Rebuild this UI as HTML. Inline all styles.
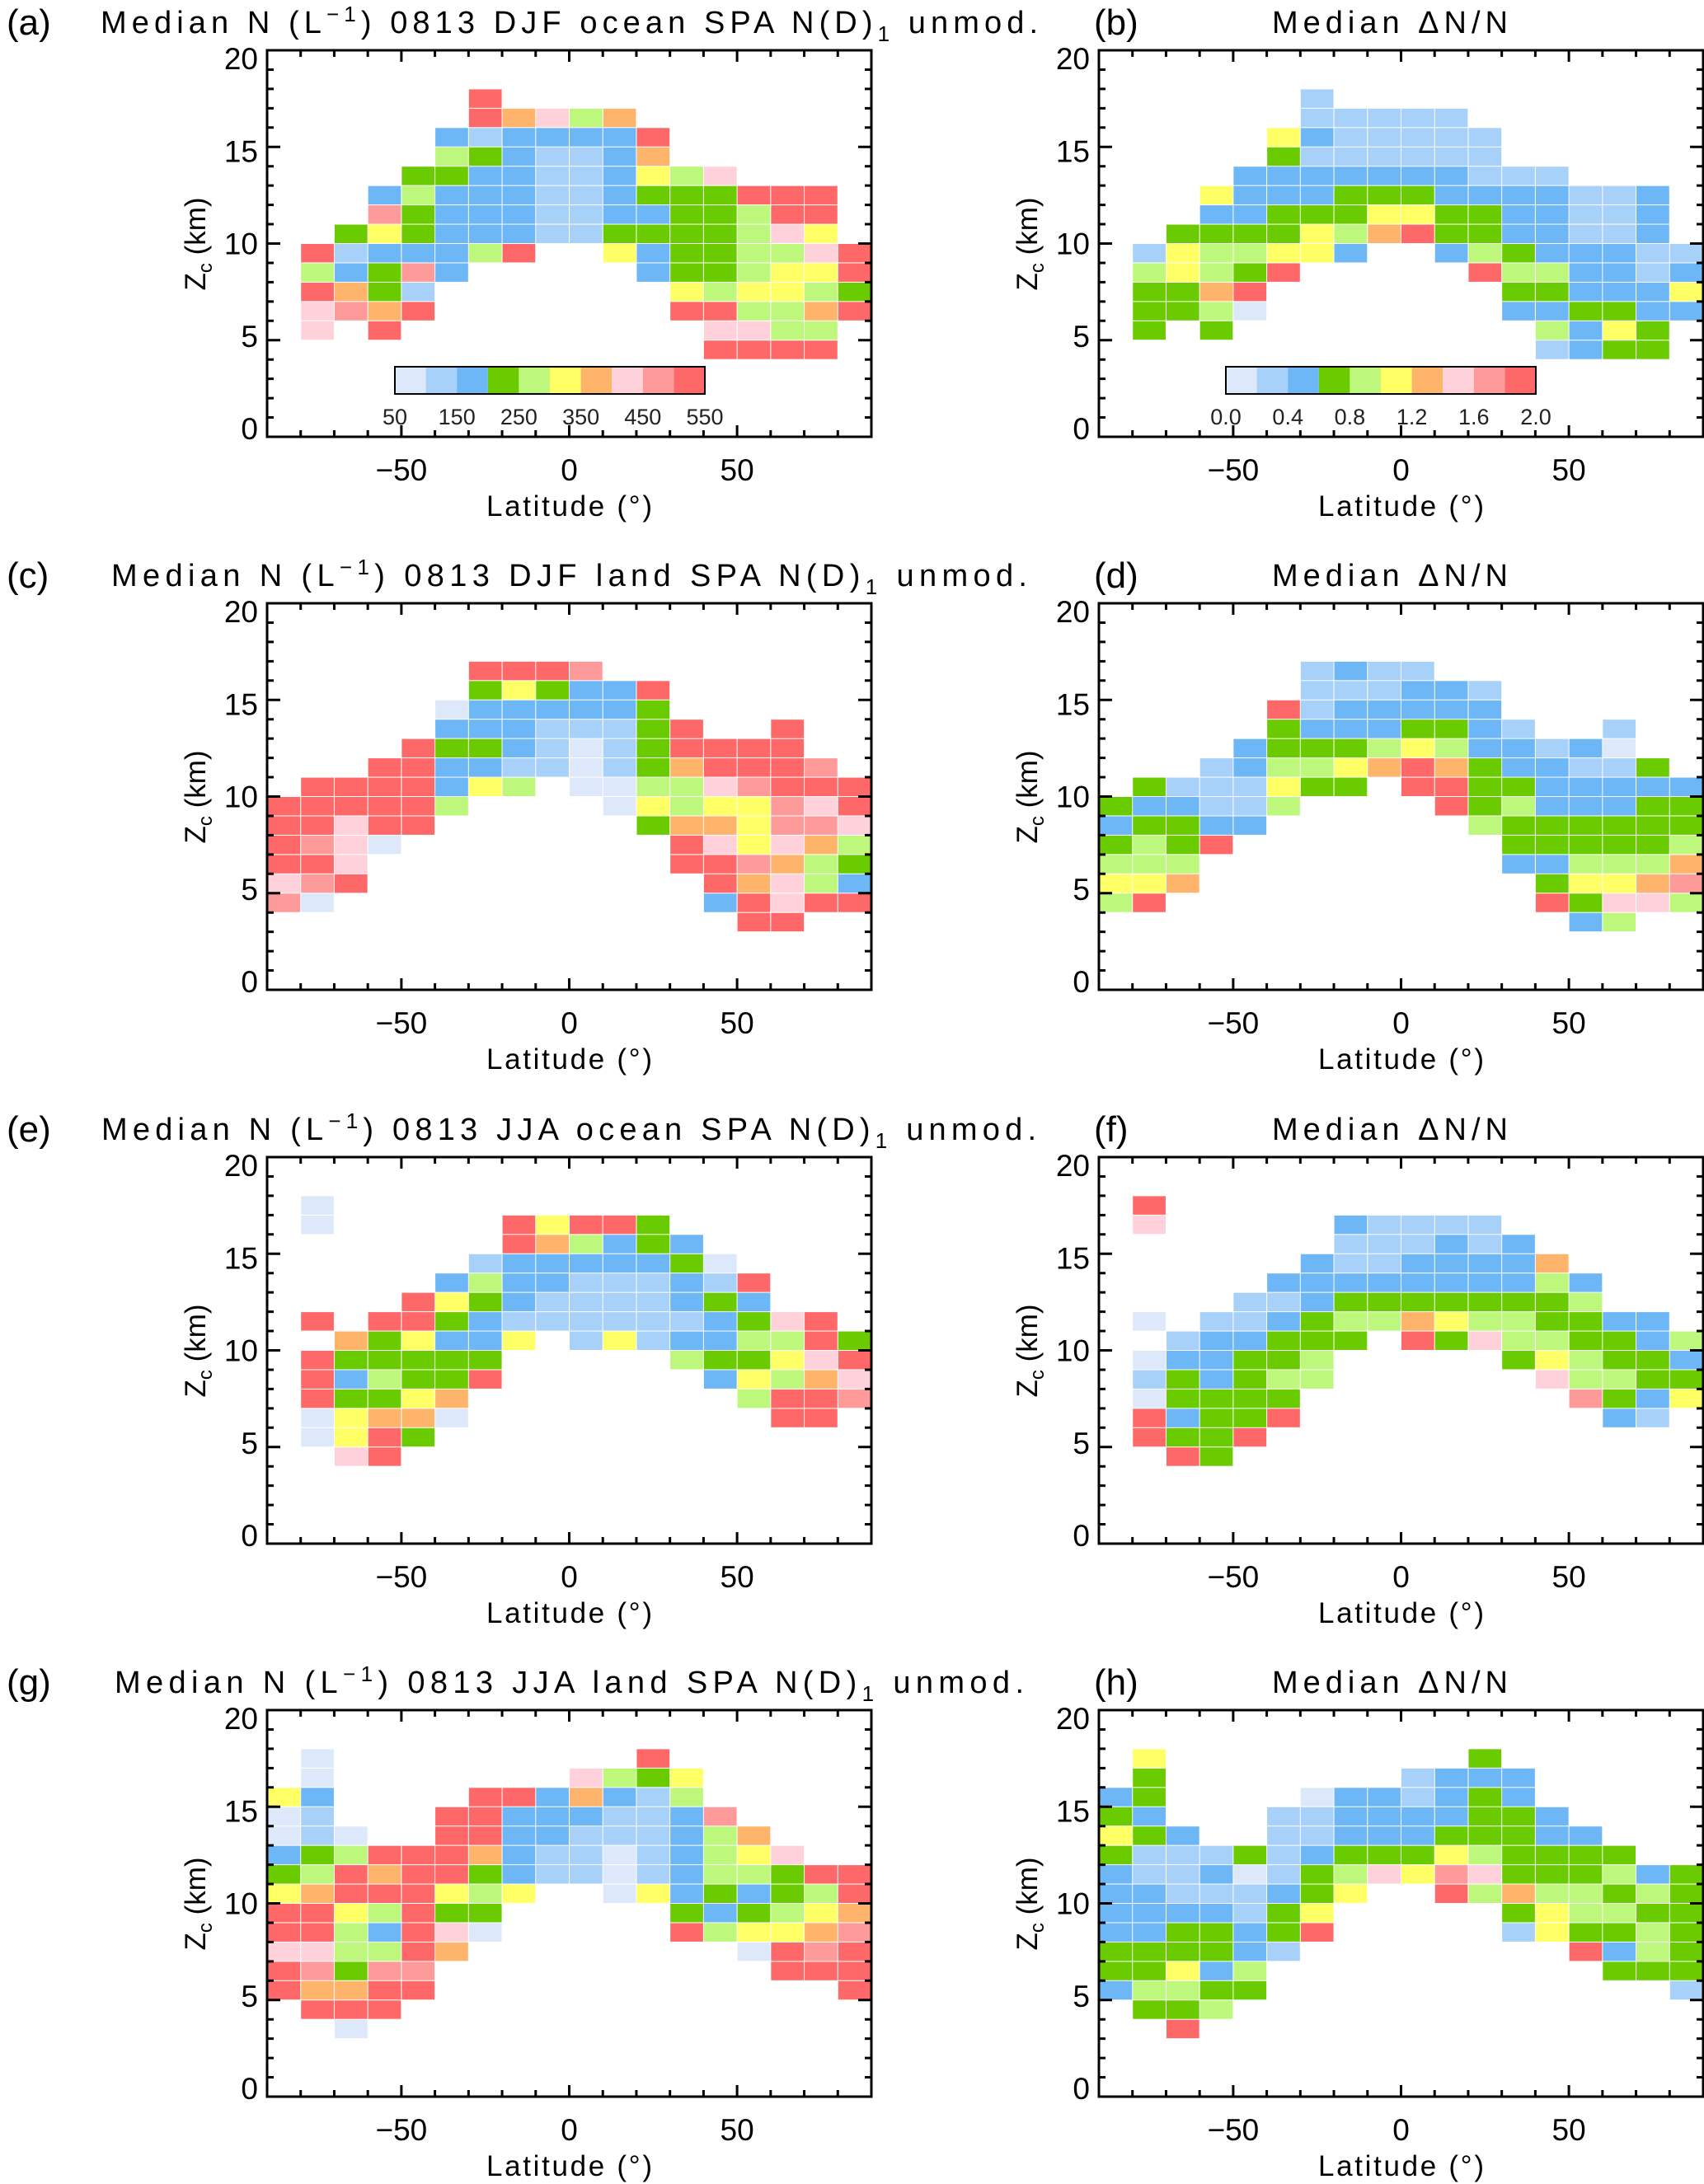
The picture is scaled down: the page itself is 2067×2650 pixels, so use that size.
<!DOCTYPE html>
<html><head><meta charset="utf-8"><title>Median N and ΔN/N panels</title>
<style>
html,body{margin:0;padding:0;background:#fff;}
svg{display:block;font-family:"Liberation Sans",sans-serif;}
</style></head>
<body>
<svg id="fig" width="2067" height="2650" viewBox="0 0 2067 2650" xmlns="http://www.w3.org/2000/svg"></svg>
<script>
// ---- data ----
const latEdges = [-90,-80,-70,-60,-50,-40,-30,-20,-10,0,10,20,30,40,50,60,70,80,90];
const xTickLabels = ["-50","0","50"];
const xTickValues = [-50,0,50];
const yTickValues = [0,5,10,15,20];
const cbLabelsN = ["50","150","250","350","450","550"];
const cbLabelsR = ["0.0","0.4","0.8","1.2","1.6","2.0"];
const palette = ["#dde9fb","#a8d1f9","#6db7f7","#6acc00","#bdf77c","#ffff66","#ffb46b","#ffd1da","#ff9a9a","#ff6868"];
const startAlt = 17; // first row = 17-18 km, going down
const panelA = ["......9...........","......96746.......",".....2122229......",".....4321126......","....3322112547....","...24222112333999.","...83222112233499.","..353222113333475.",".9122249..52334479",".42382.....2334559",".9631.......545543",".7869.......994469",".7.9.........7744.",".............9999."];
const panelB = ["......1...........","......11111.......",".....5211111......",".....3111111......","....2222222111....","...52223332222112.","...22333553322112.","..333354693322112.",".1544552..24322211",".45439.....9442212",".3369.......332225",".3340.......223322",".3.3.........4253.",".............1233."];
const panelC = ["..................","......9998........","......353229......",".....0222223......",".....22211139..9..","....933210139999..","...99221101369998.",".9999254.004478999","999994....05455879","99799......3665887","9870........975764","997.........998643","789..........96742","80...........29799","..............99.."];
const panelD = ["..................","......1211........","......111221......",".....9122222......",".....32223321..1..","....233345422120..","...12445696322113.",".3111533.993322222","322114....93422233","23322......4333333","3439........333334","444.........224446","556..........35568","49...........93774","..............24.."];
const panelE = [".0................",".0.....95993......",".......964232.....","......12222230....",".....2422111219...","....95321111232...",".9.99321111112379.","..635225.151224493",".933333.....433579",".924339......25467",".93356........4998",".05660.........99.",".0593.............","..79.............."];
const panelF = [".9................",".7.....21111......",".......111212.....","......21122226....",".....2222222242...","....11233333334...",".0.11234465443322.","..122333.937443324",".022334.....354332",".132344......74433",".03333........8325",".92339.........21.",".9339.............","..93.............."];
const panelG = [".0.........9......",".0.......7435.....","52....9926214.....","01...992221128....","010..9922111246...","2349996211012457..","349699321101244399","56999545..05232349","9954933.....323456","9942970.....945568","774496........0989","98388..........999","96699............9",".999..............","..0..............."];
const panelH = [".5.........3......",".3.......1222.....","23....0221232.....","32...112222332....","532..1122233322...","3111312333543333..","211201347587333423","22111235..94644343","2222135.....354433","2233239.....153343","333321........9243","33524..........333","24433............1",".334..............","..9..............."];

const NS="http://www.w3.org/2000/svg";
const svg=document.getElementById('fig');
function mk(tag,attrs,parent){const e=document.createElementNS(NS,tag);for(const k in attrs)e.setAttribute(k,attrs[k]);(parent||svg).appendChild(e);return e;}

const colX=[324,1333], rowY=[61,732,1404,2075], PW=733, PH=469;

function drawPanel(col,row,rows,key,isRatio,cb){
  const x0=colX[col], y0=rowY[row];
  const g=mk('g',{});
  
  
  const xs=v=>x0+(v+90)/180*PW;
  const ys=v=>y0+PH-(v/20)*PH;
  rows.forEach((r,i)=>{
    const z=startAlt-i;
    for(let c=0;c<r.length;c++){
      const ch=r[c]; if(ch==='.') continue;
      const idx=+ch;
      const xa=xs(latEdges[c]), xb=xs(latEdges[c+1]);
      const ya=ys(z+1), yb=ys(z);
      const rc=mk('rect',{x:xa+0.5,y:ya+0.5,width:xb-xa-1,height:yb-ya-1,fill:palette[idx]},g);
      
      
    }
  });
  const fr=mk('rect',{x:x0,y:y0,width:PW,height:PH,fill:'none',stroke:'#000','stroke-width':3},g);
  
  
  let d='';
  for(let v=-90;v<=90;v+=10){const X=xs(v);const L=(v%50===0)?14:8;d+=`M${X},${y0+PH}v${-L}M${X},${y0}v${L}`;}
  for(let v=0;v<=20;v++){const Y=ys(v);const L=(v%5===0)?16:8;d+=`M${x0},${Y}h${L}M${x0+PW},${Y}h${-L}`;}
  const tk=mk('path',{d:d,stroke:'#000','stroke-width':3,fill:'none'},g);
  
  
  yTickValues.forEach(v=>{
    const Y=y0+10+(20-v)/20*(PH-20)+13;
    const t=mk('text',{x:x0-11,y:Y,'text-anchor':'end','font-size':37},g);t.textContent=String(v);
    
    
  });
  xTickValues.forEach((v,i)=>{
    const t=mk('text',{x:xs(v),y:y0+PH+53,'text-anchor':'middle','font-size':37},g);t.textContent=xTickLabels[i].replace('-','\u2212');
    
    
  });
  const xt=mk('text',{x:x0+PW/2,y:y0+PH+96,'text-anchor':'middle','font-size':35,textLength:201,lengthAdjust:'spacing'},g);
  xt.textContent='Latitude (\u00b0)';
  
  
  const yt=mk('text',{transform:`translate(${x0-75},${y0+235}) rotate(-90)`,'text-anchor':'middle','font-size':35},g);
  yt.innerHTML='Z<tspan font-size="24" dy="8">c</tspan><tspan dy="-8"> (km)</tspan>';
  
  
  if(cb){
    const cx=isRatio?1487:479, cy=445, cw=376, ch=33;
    const cg=mk('g',{},g);
    
    
    palette.forEach((p,i)=>{mk('rect',{x:cx+i*cw/10,y:cy,width:cw/10,height:ch,fill:p},cg);});
    mk('rect',{x:cx,y:cy,width:cw,height:ch,fill:'none',stroke:'#000','stroke-width':2},cg);
    const labs=isRatio?cbLabelsR:cbLabelsN;
    labs.forEach((s,i)=>{
      const t=mk('text',{x:cx+i*cw/5,y:cy+ch+37,'text-anchor':'middle','font-size':27,fill:'#222'},cg);t.textContent=s;
      
      
    });
  }
}

function title(x,y,w,html,name,fs){
  const a={x:x,y:y,'font-size':fs||38};
  if(w){a.textLength=w;a.lengthAdjust='spacing';}
  const t=mk('text',a);
  t.innerHTML=html;
  
  
}
function nTitle(season,surf){
  return `Median N (L<tspan font-size="26" dy="-14">\u22121</tspan><tspan dy="14">) 0813 ${season} ${surf} SPA N(D)</tspan><tspan font-size="26" dy="10">1</tspan><tspan dy="-10"> unmod.</tspan>`;
}
const rT='Median \u0394N/N';
const baseY=[40,711,1383,2054];
const labs=['(a)','(b)','(c)','(d)','(e)','(f)','(g)','(h)'];
labs.forEach((l,i)=>{
  const col=i%2,row=Math.floor(i/2);
  title(col?1327:8,baseY[row]+2,0,l,'panel-label-'+l[1],44);
});
title(122,40,1137,nTitle('DJF','ocean'),'title-a');
title(135,711,1111,nTitle('DJF','land'),'title-c');
title(123,1383,1134,nTitle('JJA','ocean'),'title-e');
title(139,2054,1103,nTitle('JJA','land'),'title-g');
[40,711,1383,2054].forEach((y,i)=>title(1543,y,286,rT,'title-'+['b','d','f','h'][i]));

drawPanel(0,0,panelA,'a',false,true);
drawPanel(1,0,panelB,'b',true,true);
drawPanel(0,1,panelC,'c',false,false);
drawPanel(1,1,panelD,'d',true,false);
drawPanel(0,2,panelE,'e',false,false);
drawPanel(1,2,panelF,'f',true,false);
drawPanel(0,3,panelG,'g',false,false);
drawPanel(1,3,panelH,'h',true,false);
</script>
</body></html>
